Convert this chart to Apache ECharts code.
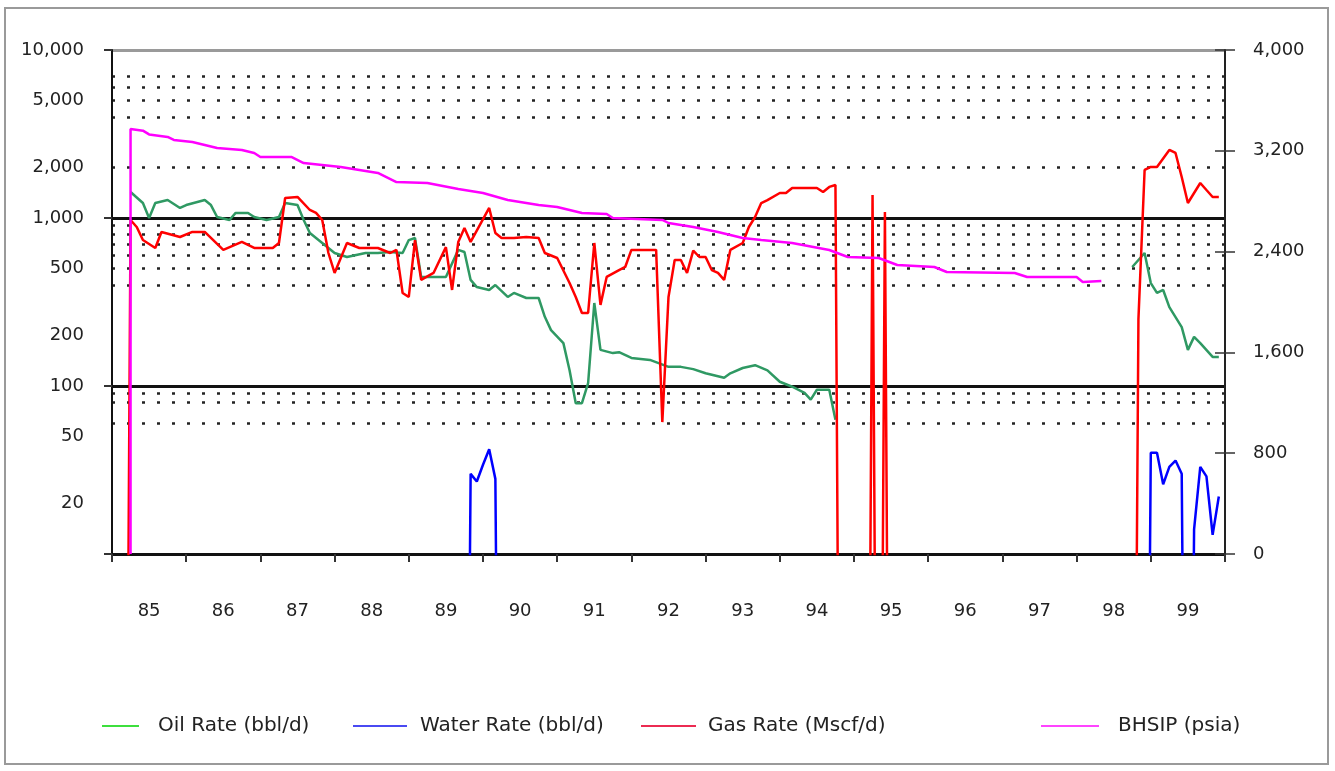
<!DOCTYPE html>
<html>
<head>
<meta charset="utf-8">
<script src="https://cdn.jsdelivr.net/npm/echarts@6/dist/echarts.min.js"></script>
<style>
html,body{margin:0;padding:0;background:#fff;}
#chart{width:1335px;height:771px;}
</style>
</head>
<body>
<div id="chart"></div>
<script>
// ---------- data ----------
const yearLabels = ['85','86','87','88','89','90','91','92','93','94','95','96','97','98','99'];

const leftLabelValues = [20, 50, 100, 200, 500, 1000, 2000, 5000, 10000];
const leftMajorValues = [10, 100, 1000, 10000];
const leftMinorValues = [60, 80, 90, 400, 500, 600, 700, 800, 900, 2000, 4000, 5000, 6000, 7000];

const oilDates = ['1985-04','1985-06','1985-07','1985-08','1985-10','1985-12','1986-01','1986-04','1986-05','1986-06',
  '1986-08','1986-09','1986-11','1986-12','1987-02','1987-04','1987-05','1987-07','1987-08','1987-09',
  '1987-11','1988-01','1988-03','1988-06','1988-08','1988-10','1988-12','1989-01','1989-02','1989-03',
  '1989-07','1989-09','1989-10','1989-11','1989-12','1990-02','1990-03','1990-05','1990-06','1990-08',
  '1990-10','1990-11','1990-12','1991-02','1991-03','1991-04','1991-05','1991-06','1991-07','1991-08',
  '1991-10','1991-11','1992-01','1992-04','1992-07','1992-09','1992-11','1993-01','1993-04','1993-05',
  '1993-07','1993-09','1993-11','1994-01','1994-03','1994-05','1994-06','1994-07','1994-09','1994-10',
  '1994-11',
  '1998-10','1998-12','1999-01','1999-02','1999-03','1999-04','1999-06','1999-07','1999-08','1999-09',
  '1999-11','1999-12'];
const oilValues = [1429,1228,1000,1228,1279,1148,1194,1279,1194,1014,
  973,1072,1072,1014,973,1014,1228,1194,973,815,
  710,619,586,619,619,628,619,739,760,446,
  446,646,628,428,388,373,399,339,358,334,
  334,258,215,180,124,79,79,104,312,164,
  157,159,147,143,130,130,126,119,112,119,
  128,133,124,106,99,91,83,95,95,63,
  null,
  511,619,410,358,373,295,224,164,196,180,
  149,149];

const waterDates = ['1989-10','1989-11','1989-12','1990-01','1990-02','1990-03','1990-04',
  '1998-12','1999-01','1999-02','1999-03','1999-04','1999-05','1999-06','1999-07','1999-08',
  '1999-09','1999-10','1999-11','1999-12'];
const waterValues = [0,30,27,34,42,28,0,
  0,40,40,26,33,36,30,0,14,
  33,29,13,22];

const gasDates = ['1985-03','1985-04','1985-05','1985-06','1985-08','1985-09','1985-12','1986-02','1986-04','1986-07',
  '1986-10','1986-12','1987-03','1987-04','1987-05','1987-07','1987-09','1987-10','1987-11','1987-12',
  '1988-01','1988-03','1988-05','1988-08','1988-10','1988-11','1988-12','1989-01','1989-02','1989-03',
  '1989-05','1989-07','1989-08','1989-09','1989-10','1989-11','1990-02','1990-03','1990-04','1990-06',
  '1990-08','1990-10','1990-11','1991-01','1991-03','1991-04','1991-05','1991-06','1991-07','1991-08',
  '1991-09','1991-11','1991-12','1992-01','1992-05','1992-06','1992-07','1992-08','1992-09','1992-10',
  '1992-11','1992-12','1993-01','1993-02','1993-03','1993-04','1993-05','1993-07','1993-08','1993-09',
  '1993-10','1993-11','1994-01','1994-02','1994-03','1994-07','1994-08','1994-09','1994-10','1994-11',
  '1995-03','1995-04','1995-05','1995-06','1995-07','1998-10','1998-11','1998-12','1999-01','1999-02',
  '1999-04','1999-05','1999-06','1999-07','1999-08','1999-09','1999-10','1999-11','1999-12'];
const gasValues = [0,973,884,739,663,826,771,826,826,646,
  720,663,663,710,1315,1334,1116,1072,973,619,
  471,710,663,663,619,646,358,339,739,428,
  471,671,373,720,871,720,1148,815,760,760,
  771,760,619,578,410,339,272,272,710,304,
  446,490,511,646,646,61,339,562,562,471,
  640,586,586,490,471,428,646,710,884,1014,
  1228,1279,1409,1409,1510,1510,1429,1531,1572,0,
  0,1371,0,1087,0,0,250,1931,2014,2014,
  2543,2439,1754,1228,1409,1616,1468,1334,1334];

const bhsipDates = ['1985-04','1985-04','1985-06','1985-07','1985-10','1985-11','1986-02','1986-04','1986-06','1986-10',
  '1986-12','1987-01','1987-06','1987-08','1988-02','1988-05','1988-08','1988-11','1989-04','1989-09',
  '1990-01','1990-05','1990-10','1991-01','1991-05','1991-09','1991-10','1992-02','1992-06','1992-07',
  '1992-11','1993-03','1993-07','1993-10','1994-03','1994-09','1994-12','1995-05','1995-08','1996-02',
  '1996-04','1997-03','1997-05','1998-01','1998-02','1998-05'];
const bhsipValues = [0,3373,3360,3330,3310,3286,3270,3246,3222,3206,
  3183,3151,3151,3103,3072,3048,3024,2952,2945,2897,
  2865,2810,2770,2754,2706,2698,2667,2659,2651,2627,
  2595,2556,2508,2492,2468,2413,2357,2349,2294,2278,
  2238,2230,2198,2198,2159,2167];

// ---------- helpers ----------
const LOG_ZERO = 0.001; // zero rates sit below the log axis floor and are clipped
function toYear(s) { return +s.slice(0, 4) + (+s.slice(5, 7) - 1) / 12; }
function logPairs(dates, vals) {
  return dates.map((d, i) => [toYear(d), vals[i] === null ? null : (vals[i] === 0 ? LOG_ZERO : vals[i])]);
}
function linPairs(dates, vals) { return dates.map((d, i) => [toYear(d), vals[i]]); }
const fmt = v => Math.round(Number(v)).toLocaleString('en-US');

const FONT = 'DejaVu Sans';
const TXT = '#222';

function legendFor(name, left, width, color, pad) {
  return {
    left: left, top: 711, orient: 'horizontal',
    itemWidth: width, itemHeight: 2,
    data: [{ name: name, icon: 'rect', itemStyle: { color: color } }],
    formatter: '{t|{name}}',
    textStyle: {
      rich: { t: { fontFamily: FONT, fontSize: 20, color: TXT, padding: [0, 0, 0, pad] } }
    }
  };
}

const chart = echarts.init(document.getElementById('chart'), null, { renderer: 'canvas' });
chart.setOption({
  animation: false,
  backgroundColor: '#fff',
  textStyle: { fontFamily: FONT },
  grid: { left: 112, right: 110, top: 50, bottom: 217, containLabel: false },
  graphic: [{
    type: 'rect', z: -1,
    shape: { x: 5, y: 8, width: 1323, height: 756 },
    style: { fill: 'none', stroke: '#9a9a9a', lineWidth: 2 }
  }],
  legend: [
    legendFor('Oil Rate (bbl/d)', 97, 37, '#3ddf3d', 14),
    legendFor('Water Rate (bbl/d)', 348, 54, '#4a4af2', 8),
    legendFor('Gas Rate (Mscf/d)', 636, 55, '#ec2b52', 7),
    legendFor('BHSIP (psia)', 1036, 58, '#ff44ff', 14)
  ],
  xAxis: [
    {
      type: 'value', min: 1985, max: 2000, interval: 1, position: 'bottom',
      axisLine: { show: true, lineStyle: { color: '#111', width: 2 } },
      axisTick: { show: true, length: 8, lineStyle: { color: '#333', width: 2 } },
      axisLabel: { show: false },
      splitLine: { show: false }
    },
    {
      type: 'category', data: yearLabels, boundaryGap: true, position: 'bottom',
      axisLine: { show: false }, axisTick: { show: false }, splitLine: { show: false },
      axisLabel: { interval: 0, margin: 48, fontSize: 18, color: TXT, fontFamily: FONT }
    }
  ],
  yAxis: [
    {
      type: 'log', logBase: 10, min: 10, max: 10000, position: 'left',
      axisLine: { show: true, lineStyle: { color: '#111', width: 2 } },
      axisTick: { show: true, length: 8, customValues: leftMajorValues, lineStyle: { color: '#333', width: 2 } },
      axisLabel: { customValues: leftLabelValues, formatter: fmt, margin: 28, fontSize: 18, color: TXT, fontFamily: FONT },
      splitLine: { show: true, lineStyle: { color: ['#111', '#111', '#111', '#9a9a9a'], width: 3 } }
    },
    {
      type: 'value', min: 0, max: 4000, interval: 800, position: 'right',
      axisLine: { show: true, lineStyle: { color: '#222', width: 2 } },
      axisTick: { show: true, length: 10, lineStyle: { color: '#333', width: 1.5 } },
      axisLabel: { formatter: fmt, margin: 28, fontSize: 18, color: TXT, fontFamily: FONT },
      splitLine: { show: false }
    },
    {
      type: 'log', logBase: 10, min: 10, max: 10000, position: 'left',
      axisLine: { show: false },
      axisTick: { show: false, customValues: leftMinorValues },
      axisLabel: { show: false },
      splitLine: { show: true, lineStyle: { color: '#222', width: 2.5, type: [3, 12] } }
    },
    {
      type: 'value', min: 0, max: 4000, interval: 800, position: 'right',
      axisLine: { show: false },
      axisTick: { show: true, inside: true, length: 10, lineStyle: { color: '#333', width: 1.5 } },
      axisLabel: { show: false },
      splitLine: { show: false }
    }
  ],
  series: [
    {
      name: 'Oil Rate (bbl/d)', type: 'line', xAxisIndex: 0, yAxisIndex: 0,
      data: logPairs(oilDates, oilValues), symbol: 'none', connectNulls: false, clip: true,
      lineStyle: { color: '#2f9963', width: 2.5 }, itemStyle: { color: '#2f9963' }, z: 3
    },
    {
      name: 'Water Rate (bbl/d)', type: 'line', xAxisIndex: 0, yAxisIndex: 0,
      data: logPairs(waterDates, waterValues), symbol: 'none', clip: true,
      lineStyle: { color: '#0000ff', width: 2.5 }, itemStyle: { color: '#0000ff' }, z: 4
    },
    {
      name: 'Gas Rate (Mscf/d)', type: 'line', xAxisIndex: 0, yAxisIndex: 0,
      data: logPairs(gasDates, gasValues), symbol: 'none', clip: true,
      lineStyle: { color: '#ff0000', width: 2.5 }, itemStyle: { color: '#ff0000' }, z: 5
    },
    {
      name: 'BHSIP (psia)', type: 'line', xAxisIndex: 0, yAxisIndex: 1,
      data: linPairs(bhsipDates, bhsipValues), symbol: 'none', clip: true,
      lineStyle: { color: '#ff00ff', width: 2.5 }, itemStyle: { color: '#ff00ff' }, z: 6
    }
  ]
});
</script>
</body>
</html>
